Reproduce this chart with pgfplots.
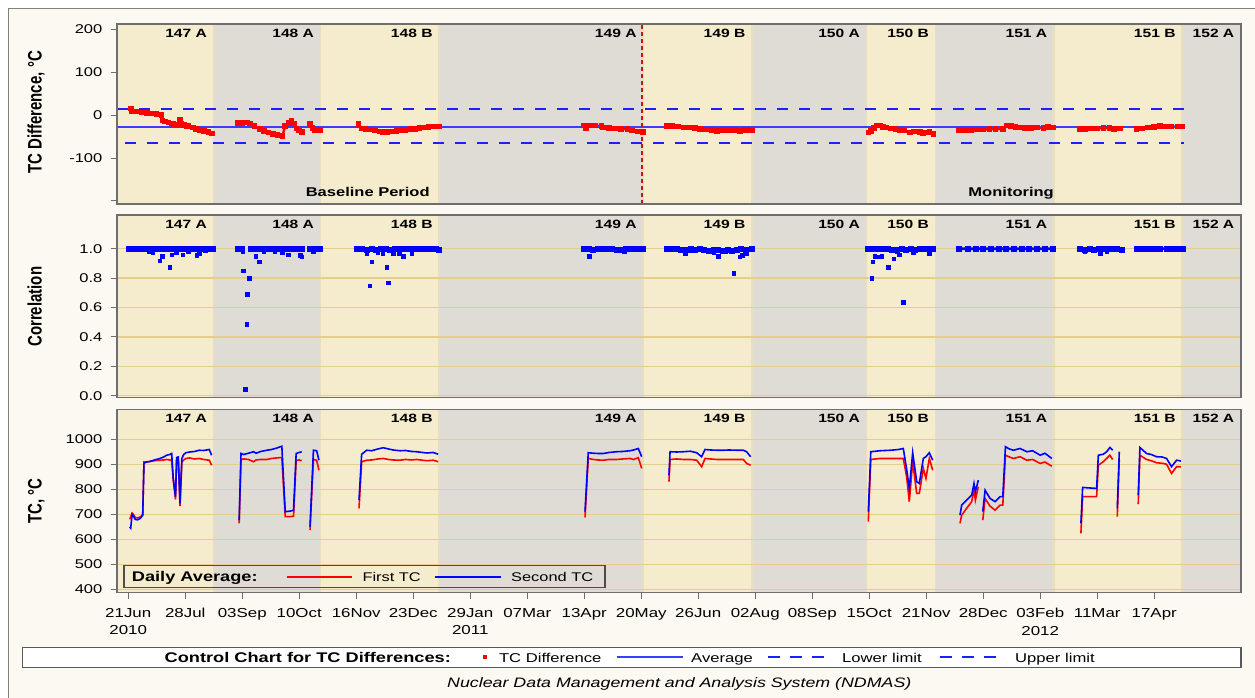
\documentclass[border=0pt]{standalone}
\usepackage{fontspec}
\setmainfont{Liberation Sans}[FakeStretch=1.3]
\newfontfamily\labfont{Liberation Sans}
\usepackage{graphicx}
\usepackage{pgfplots}
\usepackage{pgfplotstable}
\pgfplotsset{compat=1.18}

\definecolor{cream}{RGB}{252,249,242}
\definecolor{beige}{RGB}{245,236,206}
\definecolor{greyband}{RGB}{223,220,213}
\definecolor{bandedge}{RGB}{233,223,188}
\definecolor{gridgold}{RGB}{228,206,142}
\definecolor{frame}{RGB}{110,110,110}
\definecolor{avgblue}{RGB}{60,60,255}
\definecolor{limblue}{RGB}{30,30,255}
\definecolor{cutred}{RGB}{200,20,20}

% day numbers counted from 21 Jun 2010
\pgfplotstableread{
d v
1.6 15
2.2 9
5 8
8.7 6
12 5
15 4
18.4 2
21.7 0
22.3 -13
23.8 -15
26 -17
28 -20
29.5 -21
31.4 -23
33.6 -12
34.6 -21
36 -23
37.9 -25
39 -26
42 -29
44 -32
46.5 -35
49 -37
52 -40
54.5 -43
nan nan
71.4 -19
74 -18
76.9 -17
79 -20
82 -25
85.5 -32
88 -37
91 -41
94 -44
97 -47
100.2 -49
101.7 -26
104 -18
106 -13
107.5 -20
109.3 -31
111 -36
112.6 -39
nan nan
118 -21
119.5 -30
121.2 -36
123 -35
124.4 -35
nan nan
149.4 -21
151.5 -31
154 -32
157 -34
160 -36
163 -38
165.5 -40
168 -39
171 -38
174 -37
177 -36
180 -35
183 -33
186 -32
189 -30
192 -29
195 -28
198 -27
201.9 -27
nan nan
295.8 -24
297.3 -30
299 -24
303 -24
307.3 -26
308.3 -29
312 -30
316 -31
320 -32
324 -33
327 -36
331 -38
334.3 -39
nan nan
349.9 -26
353 -26
357 -27
360.3 -29
364 -29
368 -30
371.1 -33
375 -34
379 -35
382 -37
386 -35
390 -35
394 -35
397 -37
401 -35
404.7 -35
nan nan
480.4 -41
482 -37
484 -30
485.8 -24
488 -24
490 -28
492.3 -29
495 -31
498 -33
501 -35
504 -36
507.4 -41
510 -38
513.9 -39
516 -42
518.3 -41
520 -40
522.6 -44
nan nan
539.2 -35
543 -35
547 -35
551 -34
555 -34
559 -33
563 -33
568 -32
570.2 -24
573 -26
576 -28
578.8 -29
582 -30
586 -30
590 -29
594 -30
597 -28
600.5 -29
nan nan
617.8 -33
621 -32
625 -31
629 -31
633 -30
637 -30
640 -32
643.7 -31
nan nan
654.6 -32
658 -31
662 -29
666 -28
669.7 -26
673 -27
677 -27
681 -27
684.4 -27
}\tcdiff

% correlation: the dense run of days near 1.0
\pgfplotstableread{
d v
0.6 1
3 1
6 1
9 1
12 1
15 0.995
18 1
21 0.995
24 1
27 1
30 0.995
33 1
36 1
39 0.995
42 1
45 1
48 0.995
51 1
55.2 1
nan nan
71.4 1
74 1
nan nan
79.4 1
82 0.995
85 1
88 0.995
91 1
94 1
97 0.995
100 1
103 0.995
106 1
109 1
112.6 0.995
nan nan
118 1
121 0.995
124.4 1
nan nan
148.7 1
152 0.995
155 0.99
158 0.995
161 0.99
164 1
167 0.995
170 0.99
173 1
176 0.995
179 1
182 1
185 1
188 0.995
191 1
194 1
197 0.995
200 1
201.9 0.99
nan nan
295.8 1
299 0.995
302 0.99
305 0.995
308 1
311 0.995
314 1
317 0.99
320 0.99
323 0.995
326 1
329 0.995
332 1
334.3 1
nan nan
349.9 1
353 1
356 0.995
359 0.99
362 0.99
365 0.995
368 0.99
371 0.995
374 0.99
377 0.985
380 0.99
383 0.99
386 0.985
389 0.99
392 0.985
395 0.99
398 0.995
401 0.99
404.7 1
nan nan
480.4 1
484 1
487 0.995
490 0.995
493 1
496 0.99
499 0.99
502 0.995
505 0.99
508 0.995
511 0.99
514 1
517 0.995
520 1
522.6 1
nan nan
539.2 1
545 1
550 1
555 1
560 1
565 1
570 1
575 1
580 1
585 1
590 1
595 1
600.5 1
nan nan
617.8 1
621 0.99
624 0.995
627 0.99
630 0.995
633 0.995
636 0.995
639 0.995
642 0.995
644.9 0.99
nan nan
654.6 1
658 0.995
662 1
666 0.995
670 1
674 1
678 0.995
681 1
684.4 1
}\corrband

% correlation: days that fall below the run
\pgfplotstableread{
d v
13.4 0.98
16 0.975
20.6 0.92
22.1 0.95
27.1 0.874
28.2 0.96
31 0.975
35.3 0.96
39 0.98
44.4 0.955
46.1 0.97
50 0.985
74.3 0.98
74.7 0.85
76 0.045
76.9 0.486
77.3 0.69
78.4 0.80
82.9 0.95
85 0.91
88 0.98
95 0.98
100 0.975
103.9 0.96
111.5 0.955
112.6 0.946
120 0.98
154.8 0.97
156.9 0.748
158 0.91
162 0.975
165 0.97
167.7 0.874
168.8 0.769
172 0.97
176 0.97
178.5 0.95
184 0.965
299.3 0.95
302 0.985
318 0.985
322 0.98
361.4 0.97
365 0.985
376 0.98
380 0.975
383 0.95
388 0.98
393.2 0.833
397.1 0.945
398.5 0.955
401.4 0.97
482.6 0.80
483.2 0.91
484.7 0.95
487.5 0.945
489.1 0.95
493.4 0.874
496.7 0.93
498.8 0.98
500.5 0.96
503.1 0.635
509.6 0.975
520 0.97
621 0.98
631 0.97
635 0.98
644.9 0.985
}\corrlow

% daily average of the two thermocouples
\pgfplotstableread{
d r b
1.0 680 650
1.6 690 645
2.5 705 700
3.3 700 695
4.5 688 680
6 686 678
8 690 685
9.4 700 697
10.2 910 905
11.9 910 910
14 912 912
17 915 918
20.6 917 924
23 918 930
24.9 920 937
27 918 940
28.2 917 944
29.2 837 845
30.7 760 771
31.4 917 928
32.5 920 930
33.6 733 744
34.8 910 924
36 918 940
37.4 924 947
40 926 950
43 922 952
46.1 924 957
49 920 956
52.6 917 960
54.1 897 937
nan nan nan
72 664 677
73.2 920 944
75 922 940
78 920 945
81.4 911 951
83 918 945
86 920 952
90 920 957
93 924 960
96 926 965
99.7 928 973
101.9 691 711
105.1 691 713
107.3 693 717
109 917 944
111 918 948
112.6 915 951
nan nan nan
118 637 651
120.2 920 957
122.3 917 955
123.8 877 917
nan nan nan
149.8 724 757
151.5 911 941
154.8 917 957
158 918 955
162 922 962
165.5 924 967
169 920 962
172 918 958
176.4 917 955
180 920 956
184 918 952
187.2 920 951
191 917 948
194 915 946
198 917 948
201.2 911 941
nan nan nan
296.5 688 711
298.6 924 947
302 920 945
305 918 944
308.4 917 944
312 920 948
317 920 951
321 922 952
325.7 924 955
328 920 958
331.1 927 964
333.3 884 931
nan nan nan
351 831 857
351.7 920 951
356 922 950
360.3 920 951
365 920 953
369 917 947
372.2 891 931
374.4 924 960
378 922 958
382 920 957
386.3 920 957
390 920 958
395 920 957
399.3 920 957
401.4 904 951
404 897 931
nan nan nan
480.4 671 711
482 920 951
485 922 953
488 924 955
495 924 957
500 924 960
503.1 924 964
505.3 850 880
507 751 804
509.2 911 947
511.8 784 831
513.5 784 824
516.1 884 924
517.8 844 931
520 924 947
522.2 877 917
nan nan nan
539.9 664 697
541 697 737
544.2 724 757
547.5 751 777
549 797 824
549.9 757 791
551.8 811 837
nan nan nan
554.7 677 711
556.2 764 797
559.4 733 764
562.7 717 751
565.9 737 771
567.7 737 771
569.4 937 971
572 930 962
574.6 924 957
578.9 931 964
583.3 917 951
587 920 955
592 904 937
595 910 945
599.5 893 924
nan nan nan
618.4 624 664
619.5 771 808
624 771 806
628.6 771 804
629.7 897 937
632.9 911 941
635.1 924 951
637.2 937 968
639 920 957
nan nan nan
642 691 724
643.3 920 951
nan nan nan
655.6 741 777
656.7 937 968
661 920 944
664 915 940
667.5 907 931
671 905 930
674 901 924
677.2 864 891
680.5 891 917
683.3 891 914
}\tcavg

% horizontal reference lines of the lower two panels
\pgfplotstableread{
x y
-7.3 0
722.3 0
nan nan
-7.3 0.2
722.3 0.2
nan nan
-7.3 0.4
722.3 0.4
nan nan
-7.3 0.6
722.3 0.6
nan nan
-7.3 0.8
722.3 0.8
nan nan
-7.3 1
722.3 1
}\corrgrid
\pgfplotstableread{
x y
-7.3 400
722.3 400
nan nan
-7.3 500
722.3 500
nan nan
-7.3 600
722.3 600
nan nan
-7.3 700
722.3 700
nan nan
-7.3 800
722.3 800
nan nan
-7.3 900
722.3 900
nan nan
-7.3 1000
722.3 1000
}\tcgrid

% shaded fuel cycles
\newcommand\cyclebands[2]{%
  \fill[beige]    (axis cs:-7.3,#1)  rectangle (axis cs:55.4,#2);
  \fill[greyband] (axis cs:55.4,#1)  rectangle (axis cs:124.9,#2);
  \fill[beige]    (axis cs:124.9,#1) rectangle (axis cs:201.9,#2);
  \fill[greyband] (axis cs:201.9,#1) rectangle (axis cs:334.3,#2);
  \fill[beige]    (axis cs:334.3,#1) rectangle (axis cs:404.9,#2);
  \fill[greyband] (axis cs:404.9,#1) rectangle (axis cs:479.3,#2);
  \fill[beige]    (axis cs:479.3,#1) rectangle (axis cs:524.1,#2);
  \fill[greyband] (axis cs:524.1,#1) rectangle (axis cs:600.9,#2);
  \fill[beige]    (axis cs:600.9,#1) rectangle (axis cs:684.2,#2);
  \fill[greyband] (axis cs:684.2,#1) rectangle (axis cs:722.3,#2);
  \draw[bandedge, line width=1.6pt] (axis cs:55.4,#1) -- (axis cs:55.4,#2);
  \draw[bandedge, line width=1.6pt] (axis cs:124.9,#1) -- (axis cs:124.9,#2);
  \draw[bandedge, line width=1.6pt] (axis cs:201.9,#1) -- (axis cs:201.9,#2);
  \draw[bandedge, line width=1.6pt] (axis cs:334.3,#1) -- (axis cs:334.3,#2);
  \draw[bandedge, line width=1.6pt] (axis cs:404.9,#1) -- (axis cs:404.9,#2);
  \draw[bandedge, line width=1.6pt] (axis cs:479.3,#1) -- (axis cs:479.3,#2);
  \draw[bandedge, line width=1.6pt] (axis cs:524.1,#1) -- (axis cs:524.1,#2);
  \draw[bandedge, line width=1.6pt] (axis cs:600.9,#1) -- (axis cs:600.9,#2);
  \draw[bandedge, line width=1.6pt] (axis cs:684.2,#1) -- (axis cs:684.2,#2);}
\newcommand\cyclelabels[1]{%
  \node[cyc] at (axis cs:55.4,#1)  {147 A};
  \node[cyc] at (axis cs:124.9,#1) {148 A};
  \node[cyc] at (axis cs:201.9,#1) {148 B};
  \node[cyc] at (axis cs:334.3,#1) {149 A};
  \node[cyc] at (axis cs:404.9,#1) {149 B};
  \node[cyc] at (axis cs:479.3,#1) {150 A};
  \node[cyc] at (axis cs:524.1,#1) {150 B};
  \node[cyc] at (axis cs:600.9,#1) {151 A};
  \node[cyc] at (axis cs:684.2,#1) {151 B};
  \node[cyc] at (axis cs:722.3,#1) {152 A};}

\tikzset{cyc/.style={anchor=base east, inner sep=0pt, xshift=-6.5pt, yshift=-13.5pt,
  font=\bfseries\fontsize{12}{14}\selectfont}}

\pgfplotsset{
  panel/.style={
    scale only axis, width=1124pt, xmin=-7.3, xmax=722.3,
    anchor=south west, axis on top, unbounded coords=jump,
    axis line style={draw=frame, line width=1.2pt},
    tick align=outside, ytick pos=left, xtick pos=bottom,
    major tick length=6.5pt,
    tick style={draw=frame, line width=1pt},
    every tick label/.append style={font=\fontsize{12.7}{15}\selectfont},
    /pgf/number format/assume math mode=true,
    yticklabel style={inner sep=0pt, xshift=-8pt},
  }
}

\begin{document}
\begin{tikzpicture}[x=1pt,y=1pt]
\fill[white] (0,0) rectangle (1255,698);
\fill[cream] (8.3,0) rectangle (1255,689.7);
\draw[gray, line width=1pt] (8.3,0) -- (8.3,689.7) -- (1255,689.7);

% TC difference with control limits
\begin{axis}[panel, at={(117pt,494pt)}, height=180pt,
  ymin=-207, ymax=212, xtick=\empty,
  ytick={-200,-100,0,100,200}, yticklabels={,-100,0,100,200}]
  \cyclebands{-207}{212}
  \addplot[red, line width=2.4pt, mark=square*, mark size=1.6pt] table[x=d, y=v] {\tcdiff};
  \addplot[limblue, line width=1.8pt, dash pattern=on 11pt off 11pt] coordinates {(-7.3,13.2) (685.3,13.2)};
  \addplot[limblue, line width=1.8pt, dash pattern=on 11pt off 11pt] coordinates {(-2,-65.9) (685.3,-65.9)};
  \addplot[avgblue, line width=1.7pt] coordinates {(-7.3,-27.1) (685.3,-27.1)};
  \addplot[cutred, line width=1.3pt, dash pattern=on 4pt off 3pt] coordinates {(333.5,-207) (333.5,212)};
  \cyclelabels{212}
  \node[anchor=base east, inner sep=0pt, font=\bfseries\fontsize{12.7}{15}\selectfont] at (axis cs:195.8,-188.6) {Baseline Period};
  \node[anchor=base east, inner sep=0pt, font=\bfseries\fontsize{12.7}{15}\selectfont] at (axis cs:600.9,-188.6) {Monitoring};
\end{axis}

% correlation of the two thermocouples
\begin{axis}[panel, at={(117pt,300.3pt)}, height=182.7pt,
  ymin=-0.0136, ymax=1.229, xtick=\empty,
  ytick={0,0.2,0.4,0.6,0.8,1}, yticklabels={0.0,0.2,0.4,0.6,0.8,1.0}]
  \cyclebands{-0.0136}{1.229}
  \addplot[gridgold, line width=1.3pt] table[x=x, y=y] {\corrgrid};
  \addplot[blue, line width=2.8pt, mark=square*, mark size=1.6pt] table[x=d, y=v] {\corrband};
  \addplot[blue, only marks, mark=square*, mark size=1.7pt] table[x=d, y=v] {\corrlow};
  \cyclelabels{1.229}
\end{axis}

% daily average temperatures
\begin{axis}[panel, at={(117pt,105.3pt)}, height=183.4pt,
  ymin=386.4, ymax=1121,
  ytick={400,500,600,700,800,900,1000},
  yticklabels={400,500,600,700,800,900,1000},
  xtick={0,37,74,111,148,185,222,259,296,333,370,407,444,481,518,555,592,629,666},
  xticklabels={{21Jun\\2010},28Jul,03Sep,10Oct,16Nov,23Dec,{29Jan\\2011},07Mar,13Apr,20May,26Jun,02Aug,08Sep,15Oct,21Nov,28Dec,{03Feb\\2012},11Mar,17Apr},
  xticklabel style={align=center, anchor=north, inner sep=0pt, yshift=-9pt, font=\fontsize{13}{17.4}\selectfont}]
  \cyclebands{386.4}{1121}
  \addplot[gridgold, line width=1.3pt] table[x=x, y=y] {\tcgrid};
  \addplot[red, line width=1.6pt] table[x=d, y=r] {\tcavg};
  \addplot[blue, line width=1.6pt] table[x=d, y=b] {\tcavg};
  \cyclelabels{1121}
\end{axis}

% y axis titles
\node[rotate=90, anchor=base, inner sep=0pt] at (41.7,585.5)
  {\labfont\bfseries\fontsize{15}{18}\selectfont\scalebox{1}[1.3]{TC Difference, °C}};
\node[rotate=90, anchor=base, inner sep=0pt] at (41.7,391.3)
  {\labfont\bfseries\fontsize{15}{18}\selectfont\scalebox{1}[1.3]{Correlation}};
\node[rotate=90, anchor=base, inner sep=0pt] at (41.7,197.2)
  {\labfont\bfseries\fontsize{15}{18}\selectfont\scalebox{1}[1.3]{TC, °C}};

% key for the temperature panel
\draw[black!70, line width=1.4pt] (124,110.7) rectangle (605,132.3);
\draw[red, line width=1.8pt] (286.7,120.7) -- (351.7,120.7);
\draw[blue, line width=1.8pt] (435,120.7) -- (501,120.7);
\node[anchor=base west, inner sep=0pt, font=\bfseries\fontsize{14}{16}\selectfont] at (131.7,116.3) {Daily Average:};
\node[anchor=base west, inner sep=0pt, font=\fontsize{12.6}{15}\selectfont] at (362.3,116.3) {First TC};
\node[anchor=base west, inner sep=0pt, font=\fontsize{12.6}{15}\selectfont] at (511,116.3) {Second TC};

% key for the control chart
\draw[fill=white, draw=black!65, line width=1.3pt] (22.7,30.7) rectangle (1241,50.3);
\fill[red] (483,39) rectangle (487,43);
\draw[avgblue, line width=2pt] (617,41) -- (683,41);
\draw[limblue, line width=2pt, dash pattern=on 12pt off 10pt] (768,41) -- (825,41);
\draw[limblue, line width=2pt, dash pattern=on 12pt off 10pt] (940,41) -- (997,41);
\node[anchor=base west, inner sep=0pt, font=\bfseries\fontsize{14}{16}\selectfont] at (164.5,35.3) {Control Chart for TC Differences:};
\node[anchor=base west, inner sep=0pt, font=\fontsize{12.8}{15}\selectfont] at (498.8,35.3) {TC Difference};
\node[anchor=base west, inner sep=0pt, font=\fontsize{12.8}{15}\selectfont] at (691,35.3) {Average};
\node[anchor=base west, inner sep=0pt, font=\fontsize{12.8}{15}\selectfont] at (842,35.3) {Lower limit};
\node[anchor=base west, inner sep=0pt, font=\fontsize{12.8}{15}\selectfont] at (1015,35.3) {Upper limit};

\node[anchor=base west, inner sep=0pt, font=\itshape\fontsize{13.7}{16}\selectfont] at (447,10) {Nuclear Data Management and Analysis System (NDMAS)};

\pgfresetboundingbox
\path[use as bounding box] (0,0) rectangle (1255,698);
\end{tikzpicture}
\end{document}
